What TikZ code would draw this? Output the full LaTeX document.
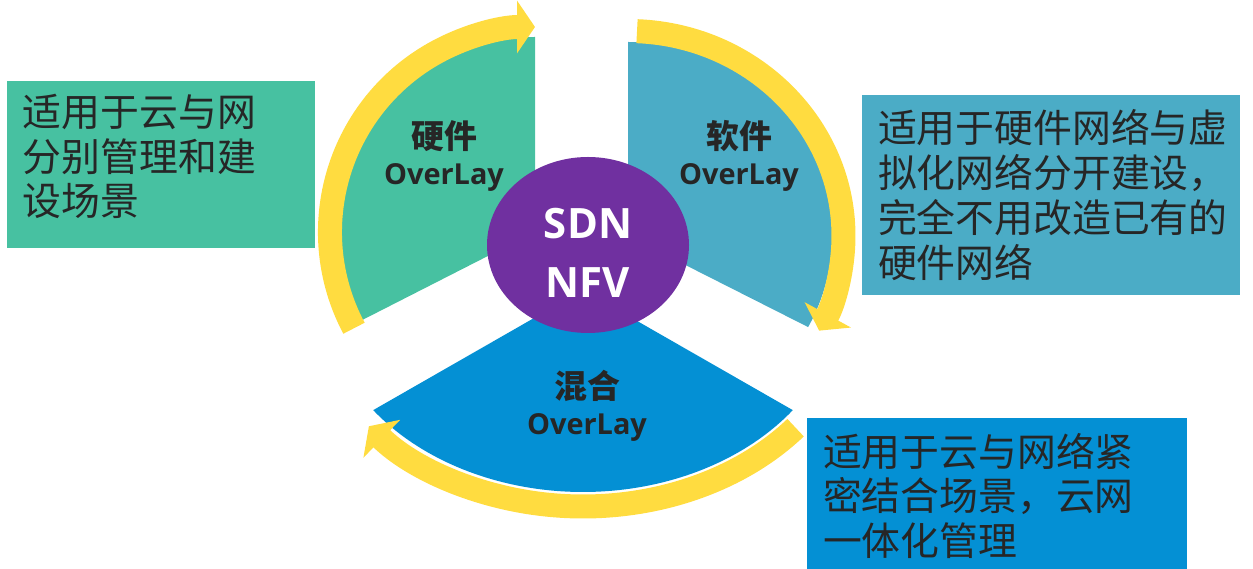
\documentclass[tikz,border=0pt]{standalone}
\usepackage{fontspec}
\setmainfont{Open Sans}
\newfontfamily\cjk{Noto Sans CJK SC}
\usetikzlibrary{arrows.meta,shapes.geometric}

\definecolor{hwgreen}{HTML}{47C1A1}
\definecolor{swblue}{HTML}{4BACC6}
\definecolor{mixblue}{HTML}{0490D4}
\definecolor{ringyellow}{HTML}{FFDC40}
\definecolor{corepurple}{HTML}{7030A0}
\definecolor{inkgray}{HTML}{262626}

\begin{document}
\begin{tikzpicture}[x=1bp, y=1bp,
    band/.style={ringyellow, line width=24bp, -{Triangle[length=18bp, width=52bp]}},
    lbl/.style={text=inkgray, align=center, font=\fontsize{29}{36}\selectfont\bfseries},
    infobox/.style={text=inkgray, align=left, inner xsep=16bp, inner ysep=0pt,
        font=\fontsize{39}{45}\selectfont\cjk}]

    \useasboundingbox (0,0) rectangle (1253,569);

    % Sector apexes
    \coordinate (hw) at (535,337);
    \coordinate (sw) at (628,333);
    \coordinate (mix) at (583,279);

    % Sectors
    \fill[hwgreen] (hw) -- ++(0,195) arc[start angle=90, end angle=207, radius=195bp] -- cycle;
    \fill[swblue] (sw) -- ++(0,194) arc[start angle=90, end angle=-28, x radius=204bp, y radius=194bp] -- cycle;
    \fill[mixblue] (mix) -- ++(216.5:261bp and 202bp)
        arc[start angle=216.5, end angle=323.5, x radius=261bp, y radius=202bp] -- cycle;

    % Yellow arrows
    \draw[band] ([shift={(208:205bp)}]hw) arc[start angle=208, end angle=90, radius=205bp];
    \draw[band] ([shift={(87.6:215.5bp and 205bp)}]sw)
        arc[start angle=87.6, end angle=-27.5, x radius=215.5bp, y radius=205bp];
    \draw[band] ([shift={(-39.5:275.5bp and 216.5bp)}]mix)
        arc[start angle=-39.5, end angle=-141, x radius=275.5bp, y radius=216.5bp];

    % Centre
    \node[ellipse, fill=corepurple, minimum width=202bp, minimum height=176bp] (core) at (588,324) {};
    \node[text=white, align=center, font=\fontsize{42}{59}\selectfont\bfseries] (coretext)
        at ([yshift=-8bp]core.center) {SDN\\NFV};

    % Sector labels
    \node[lbl] (hwlbl) at (444,413) {{\cjk\fontsize{33}{36}\selectfont 硬件}\\OverLay};
    \node[lbl] (swlbl) at (739,413) {{\cjk\fontsize{33}{36}\selectfont 软件}\\OverLay};
    \node[lbl] (mixlbl) at (587,163) {{\cjk\fontsize{33}{36}\selectfont 混合}\\OverLay};

    % Boxes
    \node[infobox, fill=hwgreen, minimum width=308bp, minimum height=167bp, text width=276bp,
        text depth=109bp] (hwbox) at (161,404.5) {适用于云与网\\分别管理和建\\设场景};
    \node[infobox, fill=swblue, minimum width=378bp, minimum height=200bp, text width=346bp]
        (swbox) at (1051,374) {适用于硬件网络与虚\\拟化网络分开建设，\\完全不用改造已有的\\硬件网络};
    \node[infobox, fill=mixblue, minimum width=380bp, minimum height=156bp, text width=348bp]
        (mixbox) at (997,73) {适用于云与网络紧\\密结合场景，云网\\一体化管理};

\end{tikzpicture}
\end{document}
